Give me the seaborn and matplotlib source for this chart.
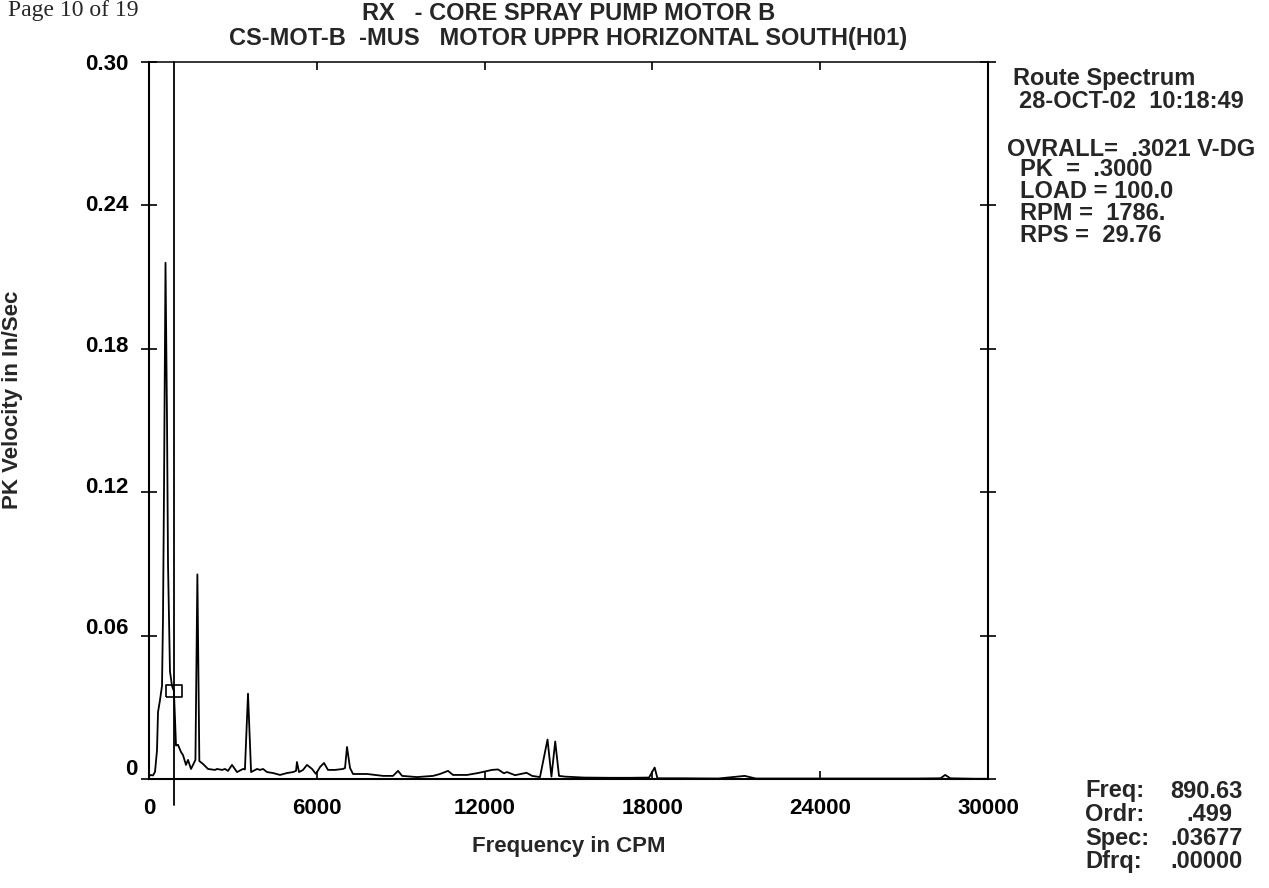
import numpy as np
import pandas as pd
import matplotlib
matplotlib.use("Agg")
import matplotlib.pyplot as plt
import matplotlib.transforms as mtransforms
import seaborn as sns

# ---- data ----
freq_cpm = [0, 36, 143, 215, 286, 322, 393, 465, 500, 536, 590, 644, 680, 750, 822, 890.63, 930, 965,
            1037, 1144, 1216, 1323, 1395, 1502, 1573, 1660, 1730, 1800, 1931, 2110, 2360, 2432,
            2610, 2718, 2825, 2968, 3147, 3361, 3430, 3540, 3650, 3862, 3970, 4077, 4220, 4434,
            4685, 4935, 5150, 5257, 5290, 5364, 5507, 5650, 5830, 5970, 6115, 6258, 6400, 6650,
            6937, 7009, 7080, 7188, 7295, 7796, 8368, 8725, 8905, 9050, 9584, 10156, 10406,
            10692, 10870, 11370, 11765, 12265, 12480, 12690, 12800, 13090, 13500, 13700, 13980,
            14250, 14390, 14525, 14660, 14870, 15550, 16500, 17200, 17880, 18080, 18180, 19000,
            20350, 21300, 21700, 22500, 24500, 26000, 27500, 28300, 28470, 28650, 29500, 30000]
velocity = [0.0008, 0.0017, 0.0015, 0.003, 0.012, 0.028, 0.033, 0.039, 0.067, 0.12, 0.216, 0.15,
            0.09, 0.045, 0.039, 0.03677, 0.025, 0.014,
            0.0143, 0.0113, 0.010, 0.0059, 0.008, 0.0042, 0.0059, 0.008, 0.0856, 0.0075, 0.0063,
            0.0042, 0.0038, 0.0042, 0.0038, 0.0042, 0.0034, 0.0059, 0.0029, 0.0042, 0.004,
            0.0357, 0.0029, 0.0042, 0.0038, 0.0042, 0.0029, 0.0025, 0.0017, 0.0025, 0.0029,
            0.0034, 0.0071, 0.0029, 0.0038, 0.0059, 0.0042, 0.0021, 0.005, 0.0067, 0.0038,
            0.0038, 0.0042, 0.0046, 0.0134, 0.0046, 0.0021, 0.0021, 0.0013, 0.0013, 0.0034,
            0.0013, 0.0008, 0.0013, 0.0021, 0.0034, 0.0017, 0.0017, 0.0025, 0.0038, 0.004,
            0.0024, 0.0029, 0.0016, 0.0026, 0.0013, 0.0008, 0.0165, 0.001, 0.0157, 0.0013,
            0.001, 0.0006, 0.0005, 0.0005, 0.0006, 0.0048, 0.0003, 0.0003, 0.0002, 0.0013,
            0.0002, 0.0002, 0.0002, 0.0002, 0.0002, 0.0003, 0.0017, 0.0003, 0.0001, 0.0001]

x_ticks = [0, 6000, 12000, 18000, 24000, 30000]
x_tick_labels = ["0", "6000", "12000", "18000", "24000", "30000"]
y_ticks = [0, 0.06, 0.12, 0.18, 0.24, 0.30]
y_tick_labels = ["0", "0.06", "0.12", "0.18", "0.24", "0.30"]

cursor_freq = 890.63
cursor_spec = 0.03677

page_header = "Page 10 of 19"
title_lines = ["RX   - CORE SPRAY PUMP MOTOR B",
               "CS-MOT-B  -MUS   MOTOR UPPR HORIZONTAL SOUTH(H01)"]
info_lines = ["Route Spectrum", "28-OCT-02  10:18:49",
              "OVRALL=  .3021 V-DG", "PK  =  .3000", "LOAD = 100.0",
              "RPM =  1786.", "RPS =  29.76"]
cursor_keys = ["Freq:", "Ordr:", "Spec:", "Dfrq:"]
cursor_vals = ["890.63", ".499", ".03677", ".00000"]

# ---- layout (pixels) ----
W, H = 1269, 888
L, R, T, B = 149, 988, 62, 779
info_x = [1013, 1019, 1007, 1020, 1020, 1020, 1020]
info_y = [79, 101, 149, 170, 192, 214, 235]
val_right = [1243, 1232, 1243, 1243]

# ---- style ----
sns.set_style("white")
plt.rcParams['font.family'] = ['Liberation Sans', 'DejaVu Sans']
plt.rcParams['font.weight'] = 'bold'

fig = plt.figure(figsize=(W / 100, H / 100), dpi=100)
ax = fig.add_axes([L / W, 1 - B / H, (R - L) / W, (B - T) / H])

df = pd.DataFrame({"Frequency in CPM": freq_cpm, "PK Velocity in In/Sec": velocity})
sns.lineplot(data=df, x="Frequency in CPM", y="PK Velocity in In/Sec", ax=ax,
             color="black", linewidth=1.3, estimator=None, sort=False)

ax.set_xlim(0, 30000)
ax.set_ylim(0, 0.30)

# cursor line and box
ax.plot([cursor_freq, cursor_freq], [-0.011, 0.30], color="black", linewidth=1.3, clip_on=False)
ax.plot([cursor_freq], [cursor_spec], marker=[(-1.45, -1), (1.45, -1), (1.45, 1), (-1.45, 1), (-1.45, -1)],
        markersize=12, markerfacecolor="none", markeredgecolor="black", markeredgewidth=1.2)

for s in ax.spines.values():
    s.set_visible(True)
    s.set_color("black")
    s.set_linewidth(1.5)
ax.spines["top"].set_linewidth(1.1)

ax.set_xticks(x_ticks)
ax.set_xticklabels(x_tick_labels)
ax.set_yticks(y_ticks)
ax.set_yticklabels(y_tick_labels)
ax.tick_params(axis="y", direction="inout", length=12, width=1.2, left=True, right=True,
               labelsize=16, pad=9, colors="black")
ax.tick_params(axis="x", direction="in", length=6, width=1.2, bottom=True, top=True,
               labelsize=16, pad=14, colors="black")
for lab in ax.get_xticklabels() + ax.get_yticklabels():
    lab.set_fontweight("bold")
# y labels in the original drift slightly upward toward the bottom; the "0" sits further right
for lab, v in zip(ax.get_yticklabels(), y_ticks):
    shift = (0.30 - v) / 0.06 * 2.5
    dx = 9 if v == 0 else 0
    lab.set_transform(lab.get_transform() +
                      mtransforms.ScaledTranslation(dx / 100, shift / 100, fig.dpi_scale_trans))

ax.set_xlabel("Frequency in CPM", fontsize=16, fontweight="bold", labelpad=12)
ax.set_ylabel("PK Velocity in In/Sec", fontsize=16, fontweight="bold")
ax.yaxis.set_label_coords(23 / W, 1 - 400 / H, transform=fig.transFigure)

# page header (the scan cuts it at the top edge)
fig.text(8 / W, 1.0, page_header, ha="left", va="top", fontsize=17,
         family=["Liberation Serif", "DejaVu Serif"], fontweight="normal")

# titles
fig.text((L + R) / 2 / W, 1 - 13 / H, title_lines[0], ha="center", va="center",
         fontsize=17, fontweight="bold")
fig.text((L + R) / 2 / W, 1 - 38 / H, title_lines[1], ha="center", va="center",
         fontsize=17, fontweight="bold")

# info block
for line, xx, yy in zip(info_lines, info_x, info_y):
    fig.text(xx / W, 1 - yy / H, line, ha="left", va="center", fontsize=17, fontweight="bold")

# cursor readout
for i, (k, v) in enumerate(zip(cursor_keys, cursor_vals)):
    yy = 1 - (791 + i * 23.5) / H
    fig.text(1085 / W, yy, k, ha="left", va="center", fontsize=17, fontweight="bold")
    fig.text(val_right[i] / W, yy, v, ha="right", va="center", fontsize=17, fontweight="bold")

fig.savefig("out.png", dpi=100)
